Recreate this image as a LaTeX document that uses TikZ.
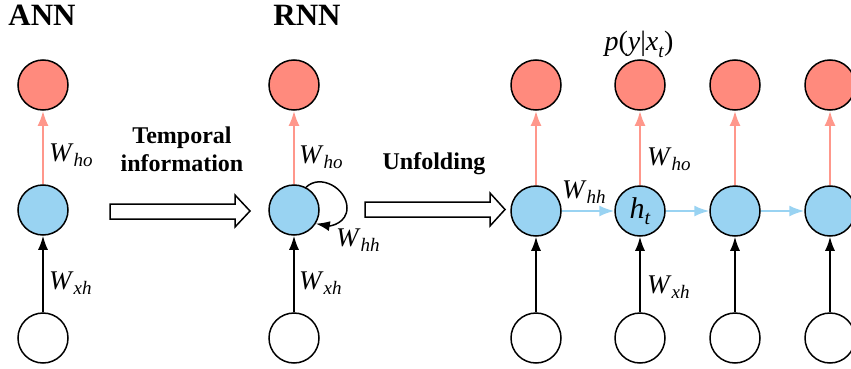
\documentclass[tikz,border=0pt]{standalone}
\usepackage{fontspec}
\setmainfont{Liberation Serif}
\usetikzlibrary{arrows.meta}
\definecolor{rfill}{HTML}{FF8A7D}
\definecolor{rline}{HTML}{FF978B}
\definecolor{bfill}{HTML}{99D3F2}
\definecolor{bline}{HTML}{99D3F2}
\newcommand\Wlab[1]{\fontsize{27}{27}\selectfont\textit{W}\raisebox{-0.22em}{\fontsize{19}{19}\selectfont\textit{#1}}}
\begin{document}
\begin{tikzpicture}[x=1pt,y=-1pt,
  neuron/.style={circle,draw=black,line width=1.5pt,minimum size=50pt,inner sep=0pt},
  outn/.style={neuron,fill=rfill},
  hidn/.style={neuron,fill=bfill},
  inn/.style={neuron,fill=white},
  blk/.style={line width=1.7pt,-{Latex[length=14pt,width=10pt]}},
  redarr/.style={line width=2.6pt,draw=rline,-{Latex[length=15pt,width=11pt]},color=rline},
  bluearr/.style={line width=2pt,draw=bline,-{Latex[length=15pt,width=11pt]},color=bline},
  hollow/.style={draw=black,line width=1.5pt,fill=white,line join=miter},
  ttl/.style={font=\bfseries\fontsize{31}{31}\selectfont,anchor=base},
  bold/.style={font=\bfseries\fontsize{24}{28}\selectfont,align=center},
  lab/.style={anchor=base west,inner sep=0pt}
]
\useasboundingbox (0,0) rectangle (851,369);
% titles
\node[ttl] (tann) at (42,26) {ANN};
\node[ttl] (trnn) at (307,26) {RNN};
% ANN
\node[outn] (ao) at (43,85) {};
\node[hidn] (ah) at (43,210) {};
\node[inn] (ai) at (43,338) {};
\draw[redarr] (ah) -- (ao);
\draw[blk] (ai) -- (ah);
\node[lab] (awho) at (49,161) {\Wlab{ho}};
\node[lab] (awxh) at (49,289) {\Wlab{xh}};
% arrow 1
\draw[hollow] (110,204) -- (235,204) -- (235,195) -- (250,211) -- (235,227) -- (235,219) -- (110,219) -- cycle;
\node[bold] (temp) at (182,149) {Temporal\\information};
% RNN
\node[outn] (ro) at (294,85) {};
\node[hidn] (rh) at (294,210) {};
\node[inn] (ri) at (294,338) {};
\draw[redarr] (rh) -- (ro);
\draw[blk] (ri) -- (rh);
\coordinate (lp) at (347,208);
\draw[line width=1.5pt,-{Latex[length=14pt,width=10pt]}] (rh.62) to[out=45,in=90,looseness=1.1] (lp) to[out=-90,in=-10,looseness=1.1] (rh.-32);
\node[lab] (rwho) at (299,163) {\Wlab{ho}};
\node[lab] (rwhh) at (336,246) {\Wlab{hh}};
\node[lab] (rwxh) at (299,289) {\Wlab{xh}};
% arrow 2
\draw[hollow] (365,202) -- (490,202) -- (490,193) -- (505,209.5) -- (490,226) -- (490,217) -- (365,217) -- cycle;
\node[bold] (unf) at (434,164) {Unfolding};
% unfolded
\foreach \i/\x in {1/536,2/640,3/735,4/830}{
  \node[outn] (o\i) at (\x,85) {};
  \node[hidn] (h\i) at (\x,211) {};
  \node[inn] (i\i) at (\x,338) {};
  \draw[redarr] (h\i) -- (o\i);
  \draw[blk] (i\i) -- (h\i);
}
\draw[bluearr] (h1) -- (h2);
\draw[bluearr] (h2) -- (h3);
\draw[bluearr] (h3) -- (h4);
\node[inner sep=0pt] (ht) at (h2) {\fontsize{30}{30}\selectfont\textit{h}\raisebox{-0.2em}{\fontsize{20}{20}\selectfont\textit{t}}};
\node[lab] (uwhh) at (562,198) {\Wlab{hh}};
\node[lab] (uwho) at (647,165) {\Wlab{ho}};
\node[lab] (uwxh) at (647,293) {\Wlab{xh}};
\node[inner sep=0pt,anchor=base] (pyx) at (639,51) {\fontsize{28}{28}\selectfont\textit{p}(\textit{y}|\textit{x}\raisebox{-0.22em}{\fontsize{19}{19}\selectfont\textit{t}})};
\end{tikzpicture}
\end{document}
